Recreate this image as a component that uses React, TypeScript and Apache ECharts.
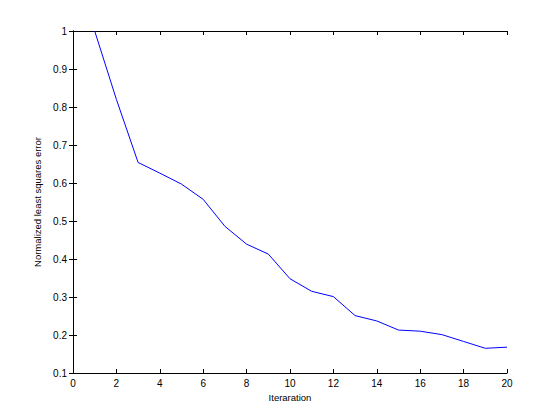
import React, { useEffect, useRef } from "react";
import * as echarts from "echarts";

const iterations = [1, 2, 3, 4, 5, 6, 7, 8, 9, 10, 11, 12, 13, 14, 15, 16, 17, 18, 19, 20];
const errors = [1.0, 0.82, 0.654, 0.626, 0.597, 0.557, 0.486, 0.439, 0.413, 0.348, 0.315, 0.301, 0.251, 0.237, 0.213, 0.21, 0.201, 0.183, 0.165, 0.168];
const xLabel = "Iteraration";
const yLabel = "Normalized least squares error";

const font = "'Liberation Sans', Arial, sans-serif";

export default function App() {
  const ref = useRef<HTMLDivElement>(null);
  useEffect(() => {
    if (!ref.current) return;
    const chart = echarts.init(ref.current, null, { renderer: "svg" });
    const axisLine = { show: true, lineStyle: { color: "#000", width: 1 } };
    const axisTick = { show: true, inside: true, length: 4, lineStyle: { color: "#000" } };
    const axisLabel = { color: "#000", fontSize: 10, fontFamily: font };
    chart.setOption({
      animation: false,
      backgroundColor: "#fff",
      grid: { left: 73, right: 53, top: 31, bottom: 46, containLabel: false },
      xAxis: [
        {
          type: "value",
          min: 0,
          max: 20,
          interval: 2,
          name: xLabel,
          nameLocation: "middle",
          nameGap: 18,
          nameTextStyle: { color: "#000", fontSize: 9.5, fontFamily: font },
          axisLine,
          axisTick,
          axisLabel: { ...axisLabel, margin: 5 },
          splitLine: { show: false },
        },
        {
          type: "value",
          position: "top",
          min: 0,
          max: 20,
          interval: 2,
          axisLine,
          axisTick,
          axisLabel: { show: false },
          splitLine: { show: false },
        },
      ],
      yAxis: [
        {
          type: "value",
          min: 0.1,
          max: 1,
          interval: 0.1,
          name: yLabel,
          nameLocation: "middle",
          nameGap: 27,
          nameTextStyle: { color: "#000", fontSize: 9.5, fontFamily: font },
          axisLine,
          axisTick,
          axisLabel: { ...axisLabel, margin: 6, formatter: (v: number) => String(Math.round(v * 10) / 10) },
          splitLine: { show: false },
        },
        {
          type: "value",
          position: "right",
          min: 0.1,
          max: 1,
          interval: 0.1,
          axisLine,
          axisTick,
          axisLabel: { show: false },
          splitLine: { show: false },
        },
      ],
      series: [
        {
          type: "line",
          data: iterations.map((x, i) => [x, errors[i]]),
          showSymbol: false,
          lineStyle: { color: "#0000ff", width: 1 },
          itemStyle: { color: "#0000ff" },
          clip: true,
        },
      ],
    });
    return () => chart.dispose();
  }, []);
  return (
    <div
      ref={ref}
      style={{ position: "fixed", left: 0, top: 0, width: 560, height: 419, background: "#fff" }}
    />
  );
}
